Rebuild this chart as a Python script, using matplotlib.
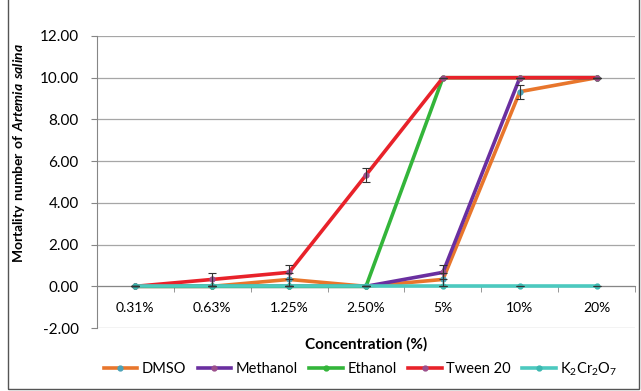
import matplotlib
matplotlib.use("Agg")
import matplotlib.pyplot as plt
from matplotlib.patches import Rectangle

plt.rcParams['font.family'] = ['Lato', 'DejaVu Sans']
plt.rcParams['mathtext.fontset'] = 'custom'
plt.rcParams['mathtext.rm'] = 'Lato'
plt.rcParams['mathtext.bf'] = 'Lato:bold'
plt.rcParams['mathtext.bfit'] = 'Lato:bold:italic'

concentrations = ["0.31%", "0.63%", "1.25%", "2.50%", "5%", "10%", "20%"]

dmso = [0, 0, 0.33, 0, 0.33, 9.33, 10]
dmso_err = [0, 0, 0.33, 0, 0.33, 0.33, 0]
methanol = [0, 0, 0, 0, 0.67, 10, 10]
methanol_err = [0, 0, 0, 0, 0.33, 0, 0]
ethanol = [0, 0, 0, 0, 10, 10, 10]
ethanol_err = [0, 0, 0, 0, 0, 0, 0]
tween = [0, 0.33, 0.67, 5.33, 10, 10, 10]
tween_err = [0, 0.33, 0.33, 0.33, 0, 0, 0]
k2cr2o7 = [0, 0, 0, 0, 0, 0, 0]
k2cr2o7_err = [0, 0, 0, 0, 0, 0, 0]

series = [
    ("DMSO", dmso, dmso_err, "#E8762C", "#4BA3B8"),
    ("Methanol", methanol, methanol_err, "#6A2FA0", "#9B4F8C"),
    ("Ethanol", ethanol, ethanol_err, "#33B53A", "#33B53A"),
    ("Tween 20", tween, tween_err, "#E8222A", "#9B4F8C"),
    (r"K$_2$Cr$_2$O$_7$", k2cr2o7, k2cr2o7_err, "#4CC9BF", "#3CB8B0"),
]

fig = plt.figure(figsize=(6.41, 3.91), dpi=100)
ax = fig.add_axes([0.151, 0.161, 0.840, 0.747])

x = list(range(len(concentrations)))
for name, vals, err, col, mcol in series:
    ax.plot(x, vals, color=col, lw=2.6, marker="o", ms=3.5,
            markerfacecolor=mcol, markeredgecolor=mcol, label=name, zorder=3)
    ax.errorbar(x, vals, yerr=err, fmt="none", ecolor="#333333",
                elinewidth=0.8, capsize=3, capthick=0.8, zorder=4)

ax.set_xlim(-0.5, 6.5)
ax.set_ylim(-2, 12)
ax.set_yticks(range(-2, 13, 2))
ax.set_yticklabels(["%.2f" % v for v in range(-2, 13, 2)], fontsize=11)
ax.yaxis.grid(True, color="#A6A6A6", lw=0.9)
ax.set_axisbelow(True)

ax.set_xticks(x)
ax.set_xticklabels(concentrations, fontsize=11)
ax.set_xticks([i + 0.5 for i in range(-1, 7)], minor=True)
ax.tick_params(axis="x", which="major", length=0, pad=11)
ax.tick_params(axis="x", which="minor", length=4, color="#868686", direction="out")
ax.tick_params(axis="y", length=4, color="#868686", pad=9)

for s in ["top", "right"]:
    ax.spines[s].set_visible(False)
ax.spines["bottom"].set_position(("data", 0))
ax.spines["bottom"].set_color("#868686")
ax.spines["left"].set_color("#868686")

ax.set_xlabel("Concentration (%)", fontsize=11, fontweight="bold")
ax.xaxis.set_label_coords(0.5, -0.03)
ax.set_ylabel(r"$\mathbf{Mortality\ number\ of\ }\mathbfit{Artemia\ salina}$",
              fontsize=10, va="center")
ax.yaxis.set_label_coords(-0.145, 0.6)

ax.legend(loc="upper center", bbox_to_anchor=(0.49, -0.065), ncol=5, frameon=False,
          fontsize=10.5, handlelength=2.3, columnspacing=0.8, handletextpad=0.3)

fig.patches.append(Rectangle((0.012, 0.004), 0.985, 1.1, transform=fig.transFigure,
                             fill=False, edgecolor="#555555", lw=1.0))

fig.savefig("out.png", dpi=100)
